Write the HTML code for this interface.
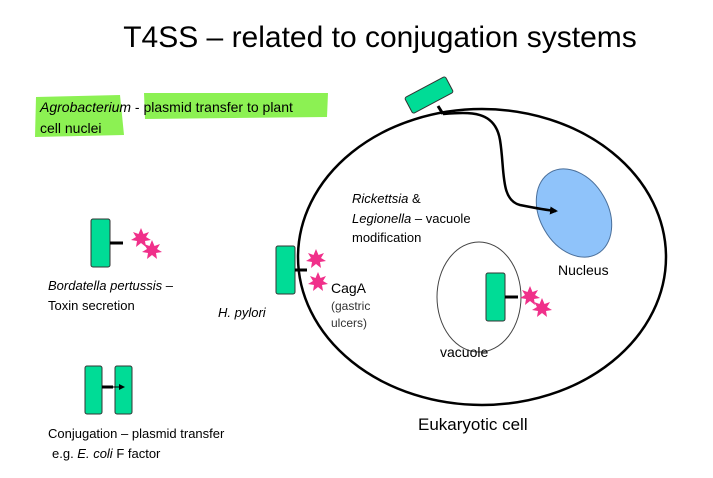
<!DOCTYPE html>
<html><head><meta charset="utf-8"><style>
body{margin:0;background:#fff;}
svg{display:block;font-family:"Liberation Sans",sans-serif;}
</style></head><body>
<svg width="713" height="478" viewBox="0 0 713 478" xmlns="http://www.w3.org/2000/svg">
<defs>
<marker id="ah" markerWidth="8" markerHeight="8" refX="6" refY="4" orient="auto" markerUnits="userSpaceOnUse"><path d="M0,0 L8,4 L0,8 z" fill="#000"/></marker>
<marker id="ah2" markerWidth="6" markerHeight="6" refX="5" refY="3" orient="auto" markerUnits="userSpaceOnUse"><path d="M0,0 L6,3 L0,6 z" fill="#000"/></marker>
<g id="star"><polygon points="0,-10 2.5,-4 8,-6 5,-1 10,2 4,3 5,9 0,5 -5,9 -4,3 -10,2 -5,-1 -8,-6 -2.5,-4" fill="#f0308a"/></g>
</defs>
<text x="380" y="47" font-size="30" text-anchor="middle" fill="#000">T4SS – related to conjugation systems</text>
<path d="M36,97 L120,95 L124,135 L35,137 z" fill="#80f040" opacity="0.9"/>
<path d="M144,93 L328,93 L327,117 L145,119 z" fill="#80f040" opacity="0.9"/>
<text x="40" y="112" font-size="14"><tspan font-style="italic">Agrobacterium</tspan> - plasmid transfer to plant</text>
<text x="40" y="133" font-size="14">cell nuclei</text>
<ellipse cx="482" cy="257" rx="184" ry="148" fill="none" stroke="#000" stroke-width="2.5"/>
<ellipse cx="574" cy="213" rx="34" ry="47" transform="rotate(-30 574 213)" fill="#8fc3fa" stroke="#4a6f9a" stroke-width="1"/>
<ellipse cx="479" cy="297" rx="42" ry="55" fill="none" stroke="#444" stroke-width="1"/>
<rect x="406" y="86" width="46" height="18" rx="2" transform="rotate(-28 429 95)" fill="#00dc96" stroke="#333" stroke-width="1"/>
<line x1="438" y1="106" x2="443" y2="114" stroke="#000" stroke-width="3"/>
<path d="M443,114 C470,112 495,110 500,140 C505,170 500,200 520,205 C535,208 545,210 556,211" fill="none" stroke="#000" stroke-width="2.5" marker-end="url(#ah)"/>
<text x="352" y="203" font-size="13"><tspan font-style="italic">Rickettsia</tspan> &amp;</text>
<text x="352" y="223" font-size="13"><tspan font-style="italic">Legionella</tspan> – vacuole</text>
<text x="352" y="242" font-size="13">modification</text>
<text x="558" y="275" font-size="14">Nucleus</text>
<text x="440" y="357" font-size="14">vacuole</text>
<text x="418" y="430" font-size="17">Eukaryotic cell</text>
<rect x="91" y="219" width="19" height="48" rx="2" fill="#00dc96" stroke="#333"/>
<line x1="110" y1="243" x2="123" y2="243" stroke="#000" stroke-width="3"/>
<use href="#star" x="141" y="238"/><use href="#star" x="152" y="250"/>
<text x="48" y="290" font-size="13" font-style="italic">Bordatella pertussis <tspan font-style="normal">–</tspan></text>
<text x="48" y="310" font-size="13">Toxin secretion</text>
<rect x="276" y="246" width="19" height="48" rx="2" fill="#00dc96" stroke="#333"/>
<line x1="295" y1="270" x2="307" y2="270" stroke="#000" stroke-width="3"/>
<use href="#star" x="316" y="259"/><use href="#star" x="318" y="282"/>
<text x="218" y="317" font-size="13" font-style="italic">H. pylori</text>
<text x="331" y="293" font-size="14">CagA</text>
<text x="331" y="310" font-size="12" fill="#333">(gastric</text>
<text x="331" y="327" font-size="12" fill="#333">ulcers)</text>
<rect x="486" y="273" width="19" height="48" rx="2" fill="#00dc96" stroke="#333"/>
<line x1="505" y1="297" x2="518" y2="297" stroke="#000" stroke-width="3"/>
<use href="#star" x="530" y="296"/><use href="#star" x="542" y="308"/>
<rect x="85" y="366" width="17" height="48" rx="2" fill="#00dc96" stroke="#333"/>
<rect x="115" y="366" width="17" height="48" rx="2" fill="#00dc96" stroke="#333"/>
<line x1="102" y1="387" x2="113" y2="387" stroke="#000" stroke-width="3"/>
<line x1="113" y1="387" x2="124" y2="387" stroke="#000" stroke-width="1" marker-end="url(#ah2)"/>
<text x="48" y="438" font-size="13">Conjugation –  plasmid transfer</text>
<text x="52" y="458" font-size="13">e.g. <tspan font-style="italic">E. coli</tspan> F factor</text>
</svg>
</body></html>
